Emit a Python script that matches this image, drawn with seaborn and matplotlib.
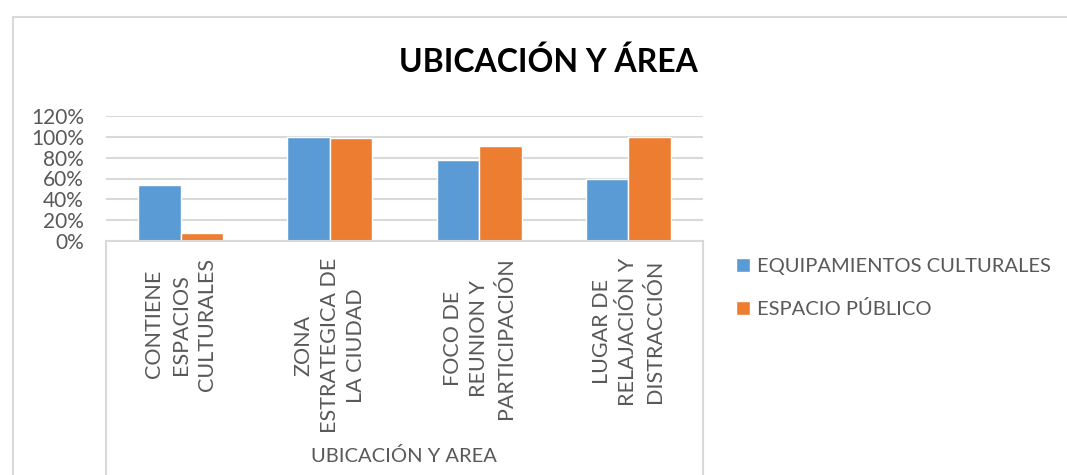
import pandas as pd
import matplotlib.pyplot as plt
import seaborn as sns
from matplotlib.lines import Line2D
from matplotlib.ticker import PercentFormatter

# values
categorias = ['CONTIENE\nESPACIOS\nCULTURALES', 'ZONA\nESTRATEGICA DE\nLA CIUDAD',
              'FOCO DE\nREUNION Y\nPARTICIPACIÓN', 'LUGAR DE\nRELAJACIÓN Y\nDISTRACCIÓN']
equipamientos = [0.54, 1.00, 0.78, 0.60]
espacio_publico = [0.075, 0.99, 0.91, 1.00]
series = ['EQUIPAMIENTOS CULTURALES', 'ESPACIO PÚBLICO']

df = pd.DataFrame({
    'categoria': categorias * 2,
    'valor': equipamientos + espacio_publico,
    'serie': [series[0]] * 4 + [series[1]] * 4,
})

sns.set_style('white')
plt.rcParams['font.family'] = ['Lato', 'DejaVu Sans']
gris = '#595959'
linea = '#D9D9D9'

fig = plt.figure(figsize=(10.67, 4.75), dpi=100)
ax = fig.add_axes([106 / 1067, 234 / 475, 597 / 1067, 125 / 475])

sns.barplot(data=df, x='categoria', y='valor', hue='serie',
            palette=['#5B9BD5', '#ED7D31'], width=0.57, gap=0, ax=ax,
            saturation=1, legend=True)

ax.set_ylim(0, 1.2)
ax.set_yticks([0, 0.2, 0.4, 0.6, 0.8, 1.0, 1.2])
ax.yaxis.set_major_formatter(PercentFormatter(1.0, decimals=0))
ax.grid(axis='y', color=linea, linewidth=1.5)
ax.set_axisbelow(True)
for s in ['top', 'right', 'left']:
    ax.spines[s].set_visible(False)
ax.spines['bottom'].set_color(linea)
ax.spines['bottom'].set_linewidth(1.5)
ax.tick_params(axis='y', length=0, pad=16, labelsize=15, labelcolor=gris)
ax.tick_params(axis='x', length=0, pad=12, labelsize=15.5, labelcolor=gris)
for lab in ax.get_xticklabels():
    lab.set_rotation(90)
    lab.set_multialignment('center')
    lab.set_linespacing(1.4)
    lab.set_va('top')
    lab.set_ha('center')
ax.set_xlabel('')
ax.set_ylabel('')

# category-axis title and its box lines
fig.text(404 / 1067, 1 - 456 / 475, 'UBICACIÓN Y AREA', ha='center', va='center',
         fontsize=14.5, color=gris)
for xp in [106, 703]:
    fig.add_artist(Line2D([xp / 1067, xp / 1067], [0, 234 / 475], color=linea, linewidth=1.5))

# chart area border (top and left)
fig.add_artist(Line2D([13 / 1067, 1], [1 - 17 / 475, 1 - 17 / 475], color=linea, linewidth=1.5))
fig.add_artist(Line2D([13 / 1067, 13 / 1067], [0, 1 - 17 / 475], color=linea, linewidth=1.5))

fig.text(548 / 1067, 1 - 62 / 475, 'UBICACIÓN Y ÁREA', ha='center', va='center',
         fontsize=23, fontweight='bold', color='black')

leg = ax.legend(title=None, frameon=False, loc='upper left',
                bbox_to_anchor=(718 / 1067, 1 - 240 / 475), bbox_transform=fig.transFigure,
                fontsize=14.5, handlelength=0.7, handleheight=0.7, handletextpad=0.35,
                labelspacing=1.25)
for t in leg.get_texts():
    t.set_color(gris)

fig.savefig('out.png', dpi=100)
